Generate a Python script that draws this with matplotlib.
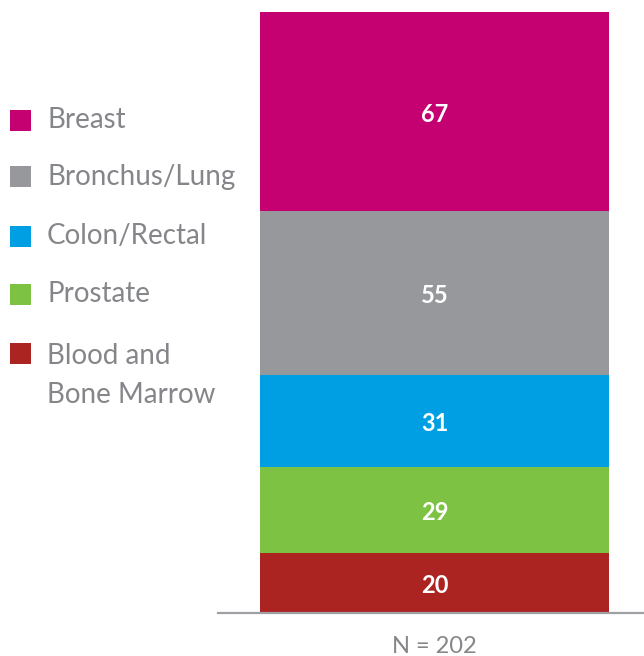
import matplotlib.pyplot as plt
from matplotlib.patches import Rectangle

categories = ["Blood and\nBone Marrow", "Prostate", "Colon/Rectal", "Bronchus/Lung", "Breast"]
values = [20, 29, 31, 55, 67]
colors = ["#AB2421", "#7DC242", "#009FE3", "#97989C", "#C50071"]
total_label = "N = 202"

plt.rcParams['font.family'] = ['Lato', 'DejaVu Sans']
text_gray = "#85868A"

fig = plt.figure(figsize=(6.44, 6.56), dpi=100)
ax = fig.add_axes([218 / 644, 43 / 656, 426 / 644, 601 / 656])

bottom = 0
for val, col in zip(values, colors):
    ax.bar(0, val, width=1.0, bottom=bottom, color=col, edgecolor="none")
    ax.text(0, bottom + val / 2 - 0.8, str(val), ha="center", va="center",
            color="white", fontsize=17, fontweight="bold")
    bottom += val

ax.set_xlim(-0.5 - 42 / 349, 0.5 + 35 / 349)
ax.set_ylim(0, sum(values))
ax.axhline(0, color="#9FA0A4", linewidth=1.6, clip_on=False)
for s in ax.spines.values():
    s.set_visible(False)
ax.set_xticks([])
ax.set_yticks([])
ax.text(0, -0.055 * sum(values), total_label, ha="center", va="center",
        color=text_gray, fontsize=17)

# legend, top to bottom
leg_y = [120, 177, 236, 294, 353]
for (lab, col), y in zip(list(zip(categories, colors))[::-1], leg_y):
    fy = 1 - y / 656
    fig.add_artist(Rectangle((10 / 644, fy - 10.5 / 656), 21 / 644, 21 / 656,
                             transform=fig.transFigure, color=col, lw=0))
    if "\n" in lab:
        fig.text(47 / 644, fy + 10 / 656, lab, ha="left", va="top",
                 color=text_gray, fontsize=20, linespacing=1.6)
    else:
        fig.text(47 / 644, fy, lab, ha="left", va="center",
                 color=text_gray, fontsize=20)

fig.savefig("out.png", dpi=100)
